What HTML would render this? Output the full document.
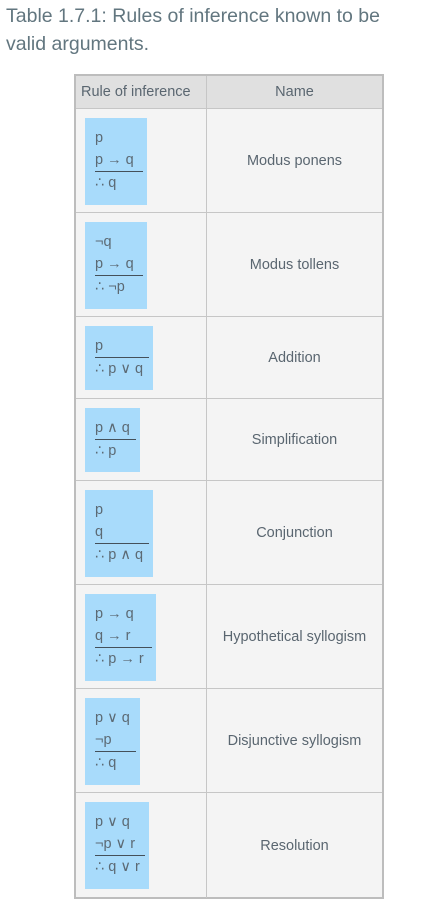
<!DOCTYPE html>
<html><head><meta charset="utf-8"><style>
body{margin:0;width:436px;height:913px;background:#fff;font-family:"Liberation Sans","DejaVu Sans",sans-serif;position:relative;overflow:hidden}
.title{position:absolute;left:6px;top:2px;font-size:19.5px;line-height:28px;color:#62767f;width:385px}
.tbl{position:absolute;left:74px;top:74px;width:306px;height:821px;border:2px solid #bdbdbd;background:#f4f4f4}
.row{position:absolute;left:0;width:306px;border-top:1px solid #c6c6c6}
.hdr{background:#e0e0e0;border-top:none;height:32px}
.c1{position:absolute;left:0;top:0;width:130px;height:100%;border-right:1px solid #c6c6c6}
.name{position:absolute;left:131px;right:0;top:50%;transform:translateY(-50%);text-align:center;font-size:14.5px;color:#5a6670}
.hname{font-size:14.5px;color:#5a6670;position:absolute;top:8px}
.box{position:absolute;left:9px;top:9px;background:#a8dbfb;padding:9px 0 0 10px;box-sizing:border-box;font-size:14.5px;color:#5c6a74;line-height:22px}
.ln{white-space:nowrap}
.ul{border-bottom:1px solid #44505a;display:block;margin-right:4px;padding-right:2px}
</style></head><body>
<div class="title">Table 1.7.1: Rules of inference known to be valid arguments.</div>
<div class="tbl">
<div class="row hdr" style="top:0"><div class="c1"><span class="hname" style="left:5px">Rule of inference</span></div><span class="hname" style="left:131px;right:0;text-align:center">Name</span></div>

<div class="row" style="top:32px;height:103px"><div class="c1"><div class="box" style="width:62px;height:87px"><div class="ln">p</div><div class="ln ul">p → q</div><div class="ln">∴ q</div></div></div><div class="name">Modus ponens</div></div>

<div class="row" style="top:136px;height:103px"><div class="c1"><div class="box" style="width:62px;height:87px"><div class="ln">¬q</div><div class="ln ul">p → q</div><div class="ln">∴ ¬p</div></div></div><div class="name">Modus tollens</div></div>

<div class="row" style="top:240px;height:81px"><div class="c1"><div class="box" style="width:68px;height:64px"><div class="ln ul">p</div><div class="ln">∴ p ∨ q</div></div></div><div class="name">Addition</div></div>

<div class="row" style="top:322px;height:81px"><div class="c1"><div class="box" style="width:55px;height:64px"><div class="ln ul">p ∧ q</div><div class="ln">∴ p</div></div></div><div class="name">Simplification</div></div>

<div class="row" style="top:404px;height:103px"><div class="c1"><div class="box" style="width:68px;height:87px"><div class="ln">p</div><div class="ln ul">q</div><div class="ln">∴ p ∧ q</div></div></div><div class="name">Conjunction</div></div>

<div class="row" style="top:508px;height:103px"><div class="c1"><div class="box" style="width:71px;height:87px"><div class="ln">p → q</div><div class="ln ul">q → r</div><div class="ln">∴ p → r</div></div></div><div class="name">Hypothetical syllogism</div></div>

<div class="row" style="top:612px;height:103px"><div class="c1"><div class="box" style="width:55px;height:87px"><div class="ln">p ∨ q</div><div class="ln ul">¬p</div><div class="ln">∴ q</div></div></div><div class="name">Disjunctive syllogism</div></div>

<div class="row" style="top:716px;height:105px"><div class="c1"><div class="box" style="width:64px;height:87px"><div class="ln">p ∨ q</div><div class="ln ul">¬p ∨ r</div><div class="ln">∴ q ∨ r</div></div></div><div class="name">Resolution</div></div>
</div>
</body></html>
